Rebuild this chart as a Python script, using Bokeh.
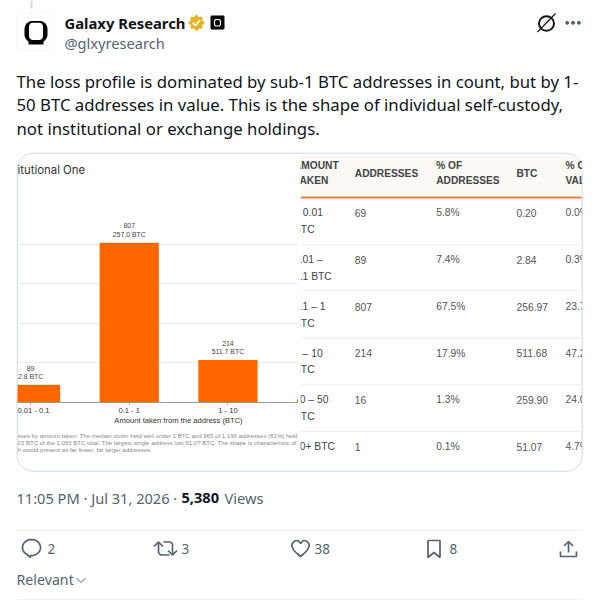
import numpy as np
from bokeh.core.properties import value
from bokeh.embed import file_html
from bokeh.layouts import column
from bokeh.models import ColumnDataSource, FixedTicker, Range1d
from bokeh.plotting import figure
from bokeh.resources import INLINE

# ---- chart data
categories = ["< 0.01", "0.01 - 0.1", "0.1 - 1", "1 - 10", "10 - 50", "50+"]
addresses = [69, 89, 807, 214, 16, 1]
btc_taken = [0.2, 2.8, 257.0, 511.7, 259.9, 51.1]
grid_ticks = [0, 200, 400, 600, 800]

# ---- table data
table_amount = [["< 0.01", "BTC"], ["0.01 –", "0.1 BTC"], ["0.1 – 1", "BTC"],
                ["1 – 10", "BTC"], ["10 – 50", "BTC"], ["50+ BTC"]]
table_addresses = ["69", "89", "807", "214", "16", "1"]
table_share = ["5.8%", "7.4%", "67.5%", "17.9%", "1.3%", "0.1%"]
table_btc = ["0.20", "2.84", "256.97", "511.68", "259.90", "51.07"]
table_value = ["0.0%", "0.3%", "23.7%", "47.2%", "24.0%", "4.7%"]

# ---- post text
author = "Galaxy Research"
handle = "@glxyresearch"
body_lines = ["The loss profile is dominated by sub-1 BTC addresses in count, but by 1-",
              "50 BTC addresses in value. This is the shape of individual self-custody,",
              "not institutional or exchange holdings."]
chart_title = "itutional One"
x_axis_title = "Amount taken from the address (BTC)"
caption_lines = ["sses by amount taken. The median victim held well under 1 BTC and 965 of 1,196 addresses (81%) held",
                 "23 BTC of the 1,083 BTC total. The largest single address lost 51.07 BTC. The shape is characteristic of i",
                 "h would present as far fewer, far larger addresses."]

INK, GREY, RULE = "#0f1419", "#536471", "#eff3f4"
UI = "Noto Sans"
CH = "Liberation Sans"
ORANGE = "#ff6600"


def rounded(x0, y0, x1, y1, r, corners=(1, 1, 1, 1)):
    """Outline of a rounded box in page pixels (tl, tr, br, bl)."""
    xs, ys = [], []
    spec = [(x0 + r, y0 + r, 180, corners[0]), (x1 - r, y0 + r, 270, corners[1]),
            (x1 - r, y1 - r, 0, corners[2]), (x0 + r, y1 - r, 90, corners[3])]
    for cx, cy, a, on in spec:
        rr = r if on else 0
        if not on:
            cx = x0 if a in (180, 90) else x1
            cy = y0 if a in (180, 270) else y1
        t = np.radians(np.linspace(a, a + 90, 13))
        xs += list(cx + rr * np.cos(t))
        ys += list(cy + rr * np.sin(t))
    return xs + xs[:1], ys + ys[:1]


def bare(w, h, xr, yr):
    f = figure(width=w, height=h, x_range=xr, y_range=yr, output_backend="svg",
               toolbar_location=None, x_axis_type=None, y_axis_type=None,
               min_border=0, outline_line_color=None)
    f.grid.visible = False
    f.background_fill_alpha = 0
    f.border_fill_alpha = 0
    return f


# ---- page layer: pixel coordinates of the screenshot
page = bare(598, 600, Range1d(0, 598), Range1d(600, 0))
page.background_fill_alpha = 1
page.background_fill_color = "white"
page.border_fill_alpha = 1
page.border_fill_color = "white"


def T(s, x, y, size, color=INK, weight="normal", font=UI, align="left"):
    page.text(x=[x], y=[y], text=[s], text_font=value(font), text_font_size=f"{size}px",
              text_color=color, text_font_style=weight, text_baseline="middle", text_align=align)


# thread connector
page.line([31, 31], [0, 8], line_color="#cfd9de", line_width=2)

# avatar
page.quad(left=[16], right=[50], top=[12], bottom=[50], fill_color="#ffffff", line_color="#f8f8f8")
ox, oy = rounded(24, 20.5, 47, 42, 8)
page.patch(ox, oy, fill_color="black", line_color=None)
ix, iy = rounded(28.5, 22.2, 42.5, 39.5, 4)
page.patch(ix, iy, fill_color="white", line_color=None)
page.quad(left=[28], right=[43], top=[40], bottom=[44], fill_color="black", line_color=None)

T(author, 64, 22, 14.8, weight="bold")
T(handle, 64, 42, 14.6, color=GREY)

# verified badge
t = np.linspace(0, 2 * np.pi, 41)
rb = 7.2 + 1.0 * np.cos(8 * t)
page.patch(196 + rb * np.cos(t), 22.3 + rb * np.sin(t), fill_color="#e6b325", line_color=None)
page.line([192.5, 195, 199.5], [22.5, 25, 19.5], line_color="white", line_width=1.8)
# affiliate badge
bx, by = rounded(210, 15, 224, 29, 1.5)
page.patch(bx, by, fill_color="black", line_color=None)
bx, by = rounded(214, 19, 220, 25.5, 2)
page.line(bx, by, line_color="white", line_width=1.2)

# top-right icons
page.ellipse(x=[546], y=[23], width=[15], height=[14.5], fill_color=None, line_color=INK, line_width=2)
page.line([537, 555], [31.5, 13], line_color=INK, line_width=1.2)
page.scatter(x=[566.7, 572.5, 578.4], y=[22.3] * 3, size=3, color=GREY)

for i, s in enumerate(body_lines):
    T(s, 16, 80.5 + i * 23.7, 16.75)

# card
cx_, cy_ = rounded(16.7, 152.7, 581.7, 470.7, 16)
page.line(cx_, cy_, line_color="#cfd9de", line_width=1)

# footer
T("11:05 PM · Jul 31, 2026 ·", 16, 497, 14.6, color=GREY)
T("5,380", 181, 497, 14.6, weight="bold")
T("Views", 224, 497, 14.6, color=GREY)
page.line([16, 582], [530, 530], line_color=RULE, line_width=1)
page.line([16, 582], [599, 599], line_color=RULE, line_width=1)

# reply
t = np.radians(np.linspace(125, 125 + 330, 40))
bub_x = list(31 + 9 * np.cos(t)) + [30, 30, 26]
bub_y = list(547 + 8 * np.sin(t)) + [556, 557, 553.5]
page.line(bub_x, bub_y, line_color=GREY, line_width=1.7)
# repost
page.line([153.5, 158, 162.5], [546, 541.5, 546], line_color=GREY, line_width=1.7)
page.line([158, 158, 160, 169], [541.5, 552, 554.5, 554.5], line_color=GREY, line_width=1.7)
page.line([163, 170, 172, 172], [541.5, 541.5, 543.5, 554.5], line_color=GREY, line_width=1.7)
page.line([167.5, 172, 176.5], [550, 554.5, 550], line_color=GREY, line_width=1.7)
# like
page.line([300, 297, 293, 291.5, 291.5, 294, 297.5, 300, 302.5, 306, 308.5, 308.5, 307, 303, 300],
          [556, 553.5, 549.5, 546, 543.5, 540.5, 540, 543, 540, 540.5, 543.5, 546, 549.5, 553.5, 556],
          line_color=GREY, line_width=1.7)
# bookmark
page.line([427.5, 427.5, 439.5, 439.5, 433.5, 427.5, 427.5],
          [557, 540, 540, 557, 552, 557, 540], line_color=GREY, line_width=1.7)
# share
page.line([568, 568], [541, 552], line_color=GREY, line_width=1.7)
page.line([563.5, 568, 572.5], [545.5, 541, 545.5], line_color=GREY, line_width=1.7)
page.line([560, 560, 576, 576], [551, 556, 556, 551], line_color=GREY, line_width=1.7)

for s, x in [("2", 47), ("3", 181), ("38", 314), ("8", 449)]:
    T(s, x, 548, 13.5, color=GREY)
T("Relevant", 16, 579, 14.2, color=GREY)
page.line([76, 80.5, 85], [577.5, 582, 577.5], line_color=GREY, line_width=1)

# ---- chart texts that sit outside the chart's plot area, cropped at the card panel
notes = bare(281, 317, Range1d(17, 298), Range1d(470, 153))
notes.margin = (-447, 0, 0, 17)
notes.text(x=[17], y=[169], text=[chart_title], text_font=value("Inter"), text_font_size="11.4px",
           text_color="#333333", text_baseline="middle")
notes.text(x=[178], y=[420], text=[x_axis_title], text_font=value(CH), text_font_size="7.6px",
           text_color="#333333", text_baseline="middle", text_align="center")
notes.text(x=[17] * 3, y=[435.7, 442, 449], text=caption_lines, text_font=value(CH),
           text_font_size="6.05px", text_color="#8a8a8a", text_baseline="middle")

# ---- bar chart, cropped by its own canvas
positions = list(range(len(categories)))
src = ColumnDataSource(dict(
    x=positions, addresses=addresses,
    count_label=[str(a) for a in addresses],
    btc_label=[f"{b:.1f} BTC" for b in btc_taken]))

chart = figure(width=281, height=317, x_range=Range1d(0.868, 3.715), y_range=Range1d(0, 1020),
               output_backend="svg", toolbar_location=None, min_border_left=0, min_border_right=0,
               min_border_top=47, min_border_bottom=68, outline_line_color=None,
               margin=(-317, 0, 0, 17))
chart.background_fill_alpha = 0
chart.border_fill_alpha = 0
chart.yaxis.visible = False
chart.xgrid.visible = False
chart.ygrid.ticker = FixedTicker(ticks=grid_ticks)
chart.ygrid.grid_line_color = "#ececec"
chart.vbar(x="x", top="addresses", width=0.6, bottom=0, source=src, fill_color=ORANGE, line_color=None)
chart.text(x="x", y="addresses", text="btc_label", source=src, y_offset=-8.5, text_font=value(CH),
           text_font_size="6.9px", text_color="#444444", text_align="center", text_baseline="middle")
chart.text(x="x", y="addresses", text="count_label", source=src, y_offset=-16.8, text_font=value(CH),
           text_font_size="6.9px", text_color="#444444", text_align="center", text_baseline="middle")
ax_ = chart.xaxis[0]
ax_.ticker = FixedTicker(ticks=positions)
ax_.major_label_overrides = {i: c for i, c in enumerate(categories)}
ax_.major_label_text_font = CH
ax_.major_label_text_font_size = "7.6px"
ax_.major_label_text_color = "#333333"
ax_.major_label_standoff = 1
ax_.axis_line_color = "#999999"
ax_.axis_line_width = 1
ax_.major_tick_line_color = "#999999"
ax_.major_tick_in = 0
ax_.major_tick_out = 2
ax_.minor_tick_line_color = None

# ---- table, cropped by its own canvas (page pixel coordinates inside)
table = bare(282, 318, Range1d(300, 582), Range1d(471, 153))
table.margin = (-317, 0, 0, 300)
hx, hy = rounded(300, 153.2, 581.2, 195, 15, corners=(0, 1, 0, 0))
table.patch(hx, hy, fill_color="#fbf8f5", line_color=None)
table.line([300, 581.2], [197, 197], line_color="#e87f40", line_width=2)

header_cells = [(293.5, 164.5, "AMOUNT"), (293.5, 180.2, "TAKEN"), (354.3, 172.5, "ADDRESSES"),
                (435.7, 164.5, "% OF"), (435.7, 180.2, "ADDRESSES"), (516, 172.5, "BTC"),
                (565, 164.5, "% OF"), (565, 180.2, "VALUE")]
table.text(x=[c[0] for c in header_cells], y=[c[1] for c in header_cells], text=[c[2] for c in header_cells],
           text_font=value(CH), text_font_size="10.2px", text_font_style="bold", text_color="#444444",
           text_baseline="middle")
row_y = [212, 259.3, 306, 352.6, 399.3, 446]
for yy in [244.3, 290.3, 337.3, 384.3, 431]:
    table.line([300, 581.2], [yy, yy], line_color="#eeeeee", line_width=1)
for col_x, col in [(354.3, table_addresses), (435.7, table_share), (516, table_btc), (565, table_value)]:
    table.text(x=[col_x] * len(col), y=row_y, text=col, text_font=value(CH), text_font_size="10.3px",
               text_color="#555555", text_baseline="middle")
for yy, parts in zip(row_y, table_amount):
    for j, s in enumerate(parts):
        table.text(x=[293.5], y=[yy + j * 16.6], text=[s], text_font=value(CH), text_font_size="10.3px",
                   text_color="#444444", text_baseline="middle")

layout = column(page, notes, chart, table, spacing=0)
open("out.html", "w").write(file_html(layout, INLINE))
